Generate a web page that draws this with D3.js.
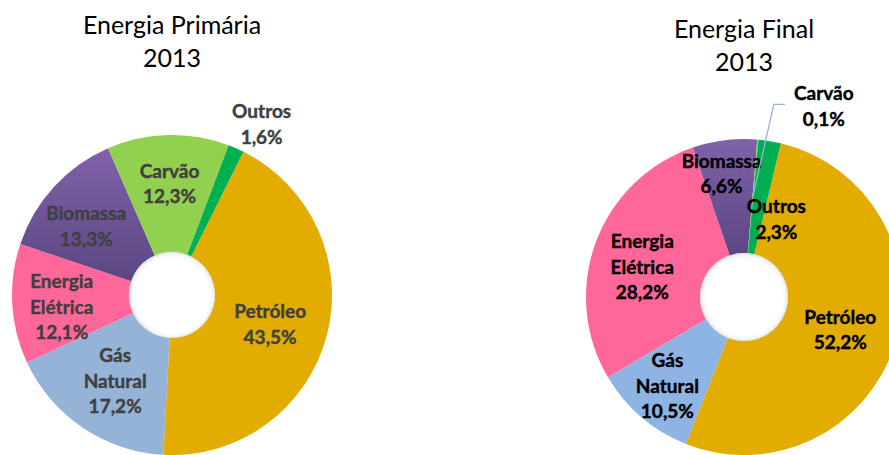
<!DOCTYPE html>
<html>
<head>
<meta charset="utf-8">
<script src="https://cdn.jsdelivr.net/npm/d3@7"></script>
<style>
  body { margin: 0; background: #fff; }
  text { font-family: Lato, "DejaVu Sans", sans-serif; }
</style>
</head>
<body>
<svg id="chart" width="889" height="455"></svg>
<script>
// categories (drawing order, clockwise)
const categories = ["Petróleo", "Gás Natural", "Energia Elétrica", "Biomassa", "Carvão", "Outros"];
const labelLines = [["Petróleo"], ["Gás", "Natural"], ["Energia", "Elétrica"], ["Biomassa"], ["Carvão"], ["Outros"]];

// shares in %
const primaria2013 = [43.5, 17.2, 12.1, 13.3, 12.3, 1.6];
const final2013 = [52.2, 10.5, 28.2, 6.6, 0.1, 2.3];

const colorsLeft = ["#e2ac00", "#95b3d7", "#ff6699", "url(#purpleGrad)", "#92d050", "#00b050"];
const colorsRight = ["#e2ac00", "#8eb4e3", "#ff6699", "url(#purpleGrad)", "#92d050", "#00b050"];

const svg = d3.select('#chart');

const defs = svg.append('defs');
const pg = defs.append('linearGradient')
  .attr('id', 'purpleGrad')
  .attr('x1', 0).attr('y1', 0).attr('x2', 0).attr('y2', 1);
pg.append('stop').attr('offset', '0%').attr('stop-color', '#8062aa');
pg.append('stop').attr('offset', '100%').attr('stop-color', '#5c4682');

const hg = defs.append('radialGradient')
  .attr('id', 'holeGrad')
  .attr('cx', '50%').attr('cy', '50%').attr('r', '50%')
  .attr('fx', '54%').attr('fy', '56%');
hg.append('stop').attr('offset', '86%').attr('stop-color', '#ffffff');
hg.append('stop').attr('offset', '96%').attr('stop-color', '#f4f4f4');
hg.append('stop').attr('offset', '100%').attr('stop-color', '#d6d6d6');

const fmt = v => d3.format('.1f')(v).replace('.', ',') + '%';

function donut(cfg) {
  const g = svg.append('g').attr('transform', `translate(${cfg.cx},${cfg.cy})`);

  const pie = d3.pie()
    .sort(null)
    .startAngle(cfg.start * Math.PI / 180)
    .endAngle(cfg.start * Math.PI / 180 + 2 * Math.PI);
  const arcs = pie(cfg.values);

  const arc = d3.arc().innerRadius(cfg.inner).outerRadius(cfg.outer);

  g.selectAll('path')
    .data(arcs)
    .join('path')
      .attr('d', arc)
      .attr('fill', (d, i) => cfg.colors[i]);

  g.append('circle')
    .attr('r', cfg.inner)
    .attr('fill', 'url(#holeGrad)');

  // labels at the ring centroid, nudged like the original
  const lineH = 25.5;
  const lbl = g.selectAll('g.lbl')
    .data(arcs)
    .join('g')
      .attr('class', 'lbl')
      .attr('transform', (d, i) => {
        const c = arc.centroid(d);
        const o = cfg.offsets[i];
        return `translate(${c[0] + o[0]},${c[1] + o[1]})`;
      });

  lbl.each(function (d, i) {
    const lines = labelLines[i].concat([fmt(cfg.values[i])]);
    const n = lines.length;
    d3.select(this).selectAll('text')
      .data(lines)
      .join('text')
        .attr('text-anchor', 'middle')
        .attr('y', (t, k) => (k - (n - 1) / 2) * lineH)
        .attr('dy', '0.36em')
        .attr('font-size', '19px')
        .attr('font-weight', 'bold')
        .attr('fill', cfg.textColor)
        .attr('stroke', cfg.textColor)
        .attr('stroke-width', 0.4)
        .text(t => t);
  });

  if (cfg.leader) {
    const a = arcs[cfg.leader.index];
    const c = arc.centroid(a);
    const o = cfg.offsets[cfg.leader.index];
    const lx = c[0] + o[0], ly = c[1] + o[1];
    g.append('path')
      .attr('d', d3.line()([c, [lx - 50, ly - 2], [lx - 39, ly - 2]]))
      .attr('fill', 'none')
      .attr('stroke', '#95b3d7')
      .attr('stroke-width', 1.3);
  }

  const title = svg.append('g')
    .attr('transform', `translate(${cfg.cx},0)`);
  cfg.title.forEach((t, k) => {
    title.append('text')
      .attr('text-anchor', 'middle')
      .attr('y', cfg.titleY + k * 33)
      .attr('font-size', '25px')
      .attr('fill', '#000')
      .text(t);
  });
}

donut({
  cx: 172, cy: 295, inner: 43, outer: 160, start: 26.5,
  values: primaria2013, colors: colorsLeft, textColor: '#404040',
  offsets: [[0, 3], [0, 2], [-9, 6], [-11, 0], [0, -10], [49, -78]],
  title: ['Energia Primária', '2013'], titleY: 34
});

donut({
  cx: 744, cy: 297, inner: 44, outer: 158, start: 13.5,
  values: final2013, colors: colorsRight, textColor: '#000',
  offsets: [[0, 2], [-11, 12], [-7, 5], [-10, -23], [71, -90], [16, 22]],
  leader: { index: 4 },
  title: ['Energia Final', '2013'], titleY: 38
});
</script>
</body>
</html>
